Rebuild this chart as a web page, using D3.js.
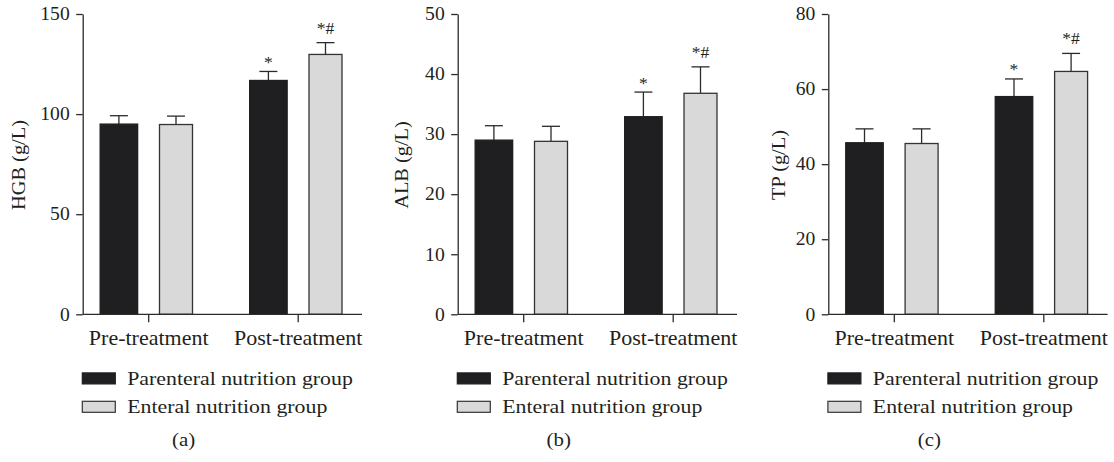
<!DOCTYPE html>
<html>
<head>
<meta charset="utf-8">
<script src="https://cdn.jsdelivr.net/npm/d3@7"></script>
<style>
  html, body { margin: 0; padding: 0; background: #fff; }
  svg { display: block; }
  text { font-family: "Liberation Serif", "Times New Roman", serif; fill: #231f20; }
</style>
</head>
<body>
<svg id="chart" width="1114" height="462"></svg>
<script>
// ---------- data ----------
const categories = ["Pre-treatment", "Post-treatment"];
const seriesNames = ["Parenteral nutrition group", "Enteral nutrition group"];
const panelLabels = ["(a)", "(b)", "(c)"];
const yTitles = ["HGB (g/L)", "ALB (g/L)", "TP (g/L)"];
const yMaxima = [150, 50, 80];
const yTicksA = [0, 50, 100, 150];
const yTicksB = [0, 10, 20, 30, 40, 50];
const yTicksC = [0, 20, 40, 60, 80];

const hgbParenteral = [95.0, 116.8];
const hgbParenteralSD = [4.2, 4.5];
const hgbEnteral = [94.8, 129.8];
const hgbEnteralSD = [4.2, 5.9];

const albParenteral = [29.0, 32.9];
const albParenteralSD = [2.4, 4.1];
const albEnteral = [28.8, 36.8];
const albEnteralSD = [2.5, 4.4];

const tpParenteral = [45.7, 58.0];
const tpParenteralSD = [3.7, 4.7];
const tpEnteral = [45.5, 64.7];
const tpEnteralSD = [3.9, 4.8];

const markParenteral = ["", "*"];
const markEnteral = ["", "*#"];

// ---------- layout / style ----------
const W = 1114, H = 462;
const plotTop = 14, plotBottom = 314.3, plotW = 279.3;
const axisXs = [82.7, 457.7, 828.3];
const titleOffsets = [57.7, 49.4, 43.3];
const ink = "#2b2b2b";
const fills = ["#1f1f21", "#d9d9d9"];
const strokes = ["#1f1f21", "#333333"];
const barWidths = [37.5, 33];

const panels = [
  { label: panelLabels[0], title: yTitles[0], max: yMaxima[0], ticks: yTicksA,
    values: [hgbParenteral, hgbEnteral], sds: [hgbParenteralSD, hgbEnteralSD] },
  { label: panelLabels[1], title: yTitles[1], max: yMaxima[1], ticks: yTicksB,
    values: [albParenteral, albEnteral], sds: [albParenteralSD, albEnteralSD] },
  { label: panelLabels[2], title: yTitles[2], max: yMaxima[2], ticks: yTicksC,
    values: [tpParenteral, tpEnteral], sds: [tpParenteralSD, tpEnteralSD] }
];
const marks = [markParenteral, markEnteral];

const svg = d3.select("#chart");
svg.append("rect").attr("width", W).attr("height", H).attr("fill", "#fff");

function scaledText(g, x, y, str, opts = {}) {
  const sx = opts.sx || 1.1;
  const rot = opts.rotate ? ` rotate(${opts.rotate})` : "";
  return g.append("text")
    .attr("transform", `translate(${x},${y})${rot} scale(${sx},1)`)
    .attr("text-anchor", opts.anchor || "start")
    .attr("font-size", opts.size || 19)
    .text(str);
}

panels.forEach((p, pi) => {
  const ax = axisXs[pi];
  const g = svg.append("g").attr("transform", `translate(${ax},0)`);

  const y = d3.scaleLinear().domain([0, p.max]).range([plotBottom, plotTop]);
  const xGroup = d3.scalePoint().domain(categories).range([65.5, 215]);
  const xSub = d3.scalePoint().domain(seriesNames).range([-29.3, 27.8]);

  // bars
  seriesNames.forEach((s, si) => {
    const bw = barWidths[si];
    const sel = g.append("g");
    categories.forEach((c, ci) => {
      const v = p.values[si][ci];
      const sd = p.sds[si][ci];
      const cx = xGroup(c) + xSub(s);
      sel.append("line")
        .attr("x1", cx).attr("x2", cx)
        .attr("y1", y(v)).attr("y2", y(v + sd))
        .attr("stroke", ink).attr("stroke-width", 1.3);
      sel.append("line")
        .attr("x1", cx - 9).attr("x2", cx + 9)
        .attr("y1", y(v + sd)).attr("y2", y(v + sd))
        .attr("stroke", ink).attr("stroke-width", 1.3);
      sel.append("rect")
        .attr("x", cx - bw / 2)
        .attr("y", y(v))
        .attr("width", bw)
        .attr("height", y(0) - y(v))
        .attr("fill", fills[si])
        .attr("stroke", strokes[si])
        .attr("stroke-width", 1.3);
      const m = marks[si][ci];
      if (m) {
        const gap = m.includes("#") ? 9 : 3.5;
        scaledText(g, cx, y(v + sd) - gap, m, { anchor: "middle", size: 16, sx: 1.1 });
      }
    });
  });

  // y axis
  const yAxis = d3.axisLeft(y).tickValues(p.ticks).tickSize(6.5).tickSizeOuter(0).tickPadding(6);
  const yg = g.append("g").call(yAxis);
  yg.select(".domain").attr("stroke", ink).attr("stroke-width", 1.3);
  yg.selectAll(".tick line").attr("stroke", ink).attr("stroke-width", 1.3);
  yg.selectAll(".tick text")
    .attr("font-family", "Liberation Serif")
    .attr("font-size", 18)
    .attr("fill", "#231f20")
    .attr("x", -13 / 1.09)
    .attr("transform", "scale(1.09,1)");

  // x axis
  const xAxis = d3.axisBottom(xGroup).tickSize(8).tickSizeOuter(0).tickPadding(8.5);
  const xg = g.append("g").attr("transform", `translate(0,${plotBottom})`).call(xAxis);
  xg.select(".domain").remove();
  xg.append("line").attr("x1", 0).attr("x2", plotW).attr("y1", 0).attr("y2", 0)
    .attr("stroke", ink).attr("stroke-width", 1.3);
  xg.selectAll(".tick line").attr("stroke", ink).attr("stroke-width", 1.3);
  xg.selectAll(".tick text")
    .attr("font-family", "Liberation Serif")
    .attr("font-size", 20)
    .attr("fill", "#231f20")
    .attr("transform", "scale(1.1,1)");

  // y title
  scaledText(g, -titleOffsets[pi], 165, p.title, { anchor: "middle", rotate: -90, size: 18.5, sx: 1.1 });

  // legend
  const lx = -1;
  seriesNames.forEach((s, si) => {
    const ly = 372.3 + si * 28.4;
    g.append("rect")
      .attr("x", lx + 0.6).attr("y", ly + 0.6)
      .attr("width", 33).attr("height", 11)
      .attr("fill", fills[si]).attr("stroke", strokes[si]).attr("stroke-width", 1.2);
    scaledText(g, lx + 45.5, ly + 12.7, s, { size: 19, sx: 1.15 });
  });

  // panel label
  scaledText(g, 101, 446, p.label, { anchor: "middle", size: 19, sx: 1.1 });
});
</script>
</body>
</html>
